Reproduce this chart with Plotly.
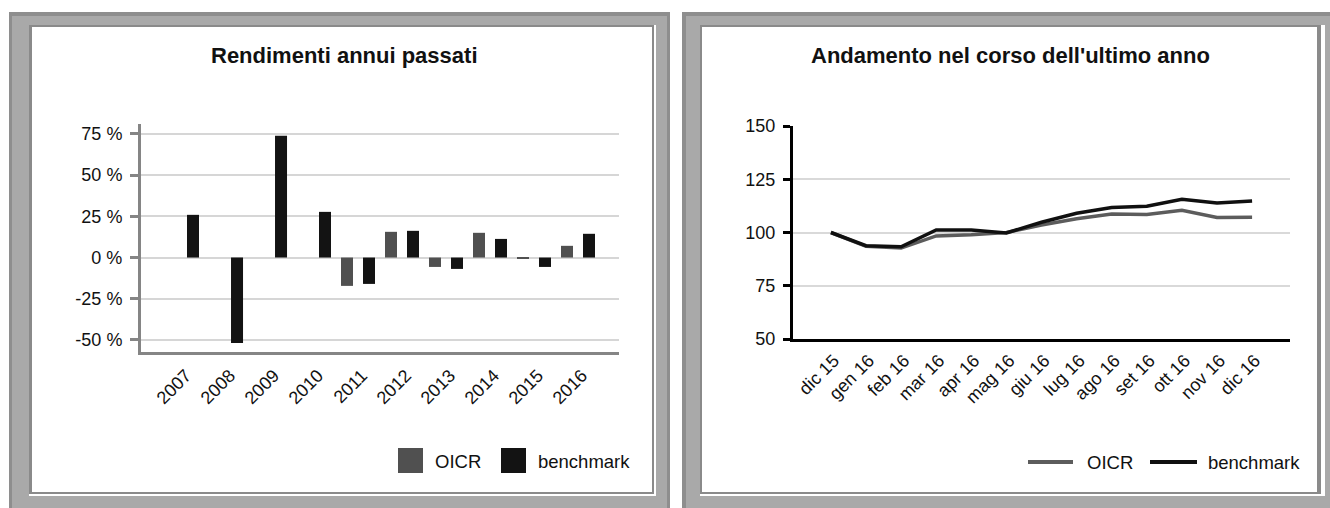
import plotly.graph_objects as go

# ---------------- data ----------------
years = ["2007", "2008", "2009", "2010", "2011", "2012", "2013", "2014", "2015", "2016"]
oicr_returns = [None, None, None, None, -17.2, 15.6, -5.7, 15.0, -0.8, 7.1]
bench_returns = [25.9, -51.8, 73.8, 27.7, -16.0, 16.2, -6.9, 11.3, -5.7, 14.4]

months = ["dic 15", "gen 16", "feb 16", "mar 16", "apr 16", "mag 16", "giu 16",
          "lug 16", "ago 16", "set 16", "ott 16", "nov 16", "dic 16"]
oicr_index = [100.0, 93.5, 92.7, 98.4, 99.0, 100.0, 103.5, 106.5, 108.7, 108.5, 110.4, 107.1, 107.2]
bench_index = [100.0, 93.8, 93.3, 101.2, 101.2, 99.8, 104.8, 109.0, 111.7, 112.3, 115.6, 113.8, 114.8]

pct_ticks = [-50, -25, 0, 25, 50, 75]
pct_labels = ["-50 %", "-25 %", "0 %", "25 %", "50 %", "75 %"]
idx_ticks = [50, 75, 100, 125, 150]

W, H = 1330, 508
FONT = "Arial, Liberation Sans, sans-serif"
C_OICR_BAR = "#505050"
C_BENCH_BAR = "#131313"
C_OICR_LINE = "#5c5c5c"
C_BENCH_LINE = "#101010"


def px(x):
    return x / W


def py(y):
    return 1 - y / H


fig = go.Figure()

fig.add_trace(go.Bar(x=years, y=oicr_returns, name="OICR", marker_color=C_OICR_BAR,
                     marker_line_width=0, offset=-0.386, width=0.273,
                     xaxis="x", yaxis="y", showlegend=False))
fig.add_trace(go.Bar(x=years, y=bench_returns, name="benchmark", marker_color=C_BENCH_BAR,
                     marker_line_width=0, offset=0.114, width=0.273,
                     xaxis="x", yaxis="y", showlegend=False))

fig.add_trace(go.Scatter(x=months, y=oicr_index, name="OICR", mode="lines",
                         line=dict(color=C_OICR_LINE, width=3.5),
                         xaxis="x2", yaxis="y2", showlegend=False))
fig.add_trace(go.Scatter(x=months, y=bench_index, name="benchmark", mode="lines",
                         line=dict(color=C_BENCH_LINE, width=3.5),
                         xaxis="x2", yaxis="y2", showlegend=False))


def rect(x0, y0, x1, y1, color, layer="below"):
    return dict(type="rect", xref="paper", yref="paper",
                x0=px(x0), x1=px(x1), y0=py(y1), y1=py(y0),
                fillcolor=color, line=dict(width=0), layer=layer)


G = "#a9a9a9"
GD = "#8e8e8e"
GL = "#8a8a8a"
shapes = [
    # left frame
    rect(9, 12, 670, 508, G),
    rect(9, 12, 12, 508, GD),
    rect(9, 12, 670, 16, GD),
    rect(667, 12, 670, 508, GD),
    rect(29, 25, 656, 496, "white"),
    rect(29, 25, 654, 494, GL),
    rect(32, 27, 652, 492, "white"),
    # right frame
    rect(682, 12, 1330, 508, G),
    rect(682, 12, 686, 508, GD),
    rect(682, 12, 1330, 16, GD),
    rect(700, 25, 1325, 496, "white"),
    rect(700, 25, 1321, 494, GL),
    rect(702, 27, 1317, 492, "white"),
    # legend symbols
    rect(398, 448, 423, 473, C_OICR_BAR, "above"),
    rect(501, 448, 526, 473, C_BENCH_BAR, "above"),
    dict(type="line", xref="paper", yref="paper", x0=px(1028), x1=px(1073),
         y0=py(462), y1=py(462), line=dict(color=C_OICR_LINE, width=4)),
    dict(type="line", xref="paper", yref="paper", x0=px(1150), x1=px(1197),
         y0=py(462), y1=py(462), line=dict(color=C_BENCH_LINE, width=4)),
]

TXT = "#111111"
annotations = [
    dict(text="<b>Rendimenti annui passati</b>", xref="paper", yref="paper",
         x=px(344), y=py(55), xanchor="center", yanchor="middle", showarrow=False,
         font=dict(family=FONT, size=22, color=TXT)),
    dict(text="<b>Andamento nel corso dell'ultimo anno</b>", xref="paper", yref="paper",
         x=px(1011), y=py(55), xanchor="center", yanchor="middle", showarrow=False,
         font=dict(family=FONT, size=22, color=TXT)),
    dict(text="OICR", xref="paper", yref="paper", x=px(433), y=py(461),
         xanchor="left", yanchor="middle", showarrow=False,
         font=dict(family=FONT, size=18.5, color=TXT)),
    dict(text="benchmark", xref="paper", yref="paper", x=px(536), y=py(461),
         xanchor="left", yanchor="middle", showarrow=False,
         font=dict(family=FONT, size=18.5, color=TXT)),
    dict(text="OICR", xref="paper", yref="paper", x=px(1085), y=py(462),
         xanchor="left", yanchor="middle", showarrow=False,
         font=dict(family=FONT, size=18.5, color=TXT)),
    dict(text="benchmark", xref="paper", yref="paper", x=px(1206), y=py(462),
         xanchor="left", yanchor="middle", showarrow=False,
         font=dict(family=FONT, size=18.5, color=TXT)),
]

tickfont = dict(family=FONT, size=18, color=TXT)

fig.update_layout(
    template="none",
    width=W, height=H,
    autosize=False,
    margin=dict(l=0, r=0, t=0, b=0, pad=0),
    paper_bgcolor="white",
    plot_bgcolor="rgba(0,0,0,0)",
    barmode="group",
    showlegend=False,
    shapes=shapes,
    annotations=annotations,
    xaxis=dict(domain=[px(141), px(619)], anchor="y", type="category",
               range=[-0.932, 9.932], showgrid=False, zeroline=False, automargin=False,
               showline=True, linecolor="#858585", linewidth=3,
               ticks="", tickangle=-45, tickfont=tickfont,
               ticklabelshift=4, ticklabelstandoff=3),
    yaxis=dict(domain=[py(352), py(124)], anchor="x", automargin=False,
               range=[-57.3, 81.0], tickvals=pct_ticks, ticktext=pct_labels,
               showgrid=True, gridcolor="#d6d6d6", gridwidth=2, zeroline=False,
               showline=True, linecolor="#858585", linewidth=3,
               ticks="outside", ticklen=8, tickwidth=3, tickcolor="#858585",
               ticklabelstandoff=4, tickfont=tickfont),
    xaxis2=dict(domain=[px(793), px(1290)], anchor="y2", type="category",
                range=[-1.08, 13.08], showgrid=False, zeroline=False, automargin=False,
                showline=True, linecolor="#000000", linewidth=3,
                ticks="", tickangle=-45, tickfont=tickfont,
                ticklabelshift=3, ticklabelstandoff=1),
    yaxis2=dict(domain=[py(339), py(126)], anchor="x2", automargin=False,
                range=[50, 150], tickvals=idx_ticks,
                showgrid=True, gridcolor="#d9d9d9", gridwidth=1.5, zeroline=False,
                showline=True, linecolor="#000000", linewidth=3,
                ticks="outside", ticklen=7, tickwidth=3, tickcolor="#000000",
                ticklabelstandoff=4, tickfont=tickfont),
)

# remove the default page margin so the figure fills the 1330x508 window exactly
fig.write_html(
    "out.html",
    config={"displayModeBar": False},
    post_script="document.body.style.margin='0';document.body.style.overflow='hidden';",
)
